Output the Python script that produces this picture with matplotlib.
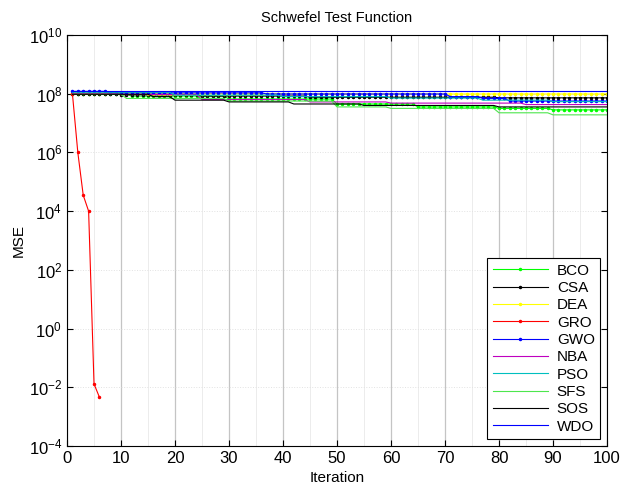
import numpy as np
import matplotlib
matplotlib.use("Agg")
import matplotlib.pyplot as plt
from matplotlib.ticker import FixedLocator, FuncFormatter

plt.rcParams["font.family"] = ["Liberation Sans", "DejaVu Sans"]
plt.rcParams["mathtext.fontset"] = "custom"
plt.rcParams["mathtext.rm"] = "Liberation Sans"
plt.rcParams["mathtext.it"] = "Liberation Sans:italic"

n_iter = 100
iters = np.arange(1, n_iter + 1)

# best-so-far curves: (iteration where the value changes, log10 MSE)
bco_steps = [(1, 7.98), (12, 7.92), (30, 7.82), (50, 7.65), (65, 7.55), (80, 7.50), (90, 7.45)]
csa_steps = [(1, 8.00), (10, 7.97), (25, 7.92), (45, 7.88), (80, 7.86)]
dea_steps = [(1, 8.03), (15, 8.00), (40, 7.99)]
gwo_steps = [(1, 8.08), (8, 8.03), (37, 7.99), (71, 7.90), (77, 7.84), (82, 7.75)]
nba_steps = [(1, 8.00), (10, 7.97), (25, 7.80), (45, 7.72), (60, 7.68), (85, 7.63)]
pso_steps = [(1, 8.05), (20, 7.95), (40, 7.90), (60, 7.85), (77, 7.78), (90, 7.73)]
sfs_steps = [(1, 7.98), (11, 7.84), (30, 7.75), (50, 7.55), (60, 7.50), (80, 7.35), (90, 7.28)]
sos_steps = [(1, 7.98), (16, 7.90), (20, 7.78), (30, 7.72), (42, 7.65), (55, 7.60), (80, 7.55)]
wdo_steps = [(1, 8.10)]

# GRO converges quickly and stops after 6 iterations
gro_iter = [1, 2, 3, 4, 5, 6]
gro_mse = [1e8, 1e6, 3.5e4, 1e4, 1.3e-2, 4.6e-3]


def expand(steps):
    vals = np.zeros(n_iter)
    for it, lv in steps:
        vals[it - 1:] = 10.0 ** lv
    return vals


fig = plt.figure(figsize=(6.24, 4.86), dpi=100)
ax = fig.add_axes([0.1074, 0.0823, 0.8654, 0.8457])

series = [
    ("BCO", expand(bco_steps), iters, (0, 1, 0), "."),
    ("CSA", expand(csa_steps), iters, "k", "."),
    ("DEA", expand(dea_steps), iters, (1, 1, 0), "."),
    ("GRO", gro_mse, gro_iter, "r", "."),
    ("GWO", expand(gwo_steps), iters, "b", "."),
    ("NBA", expand(nba_steps), iters, "m", None),
    ("PSO", expand(pso_steps), iters, "c", None),
    ("SFS", expand(sfs_steps), iters, (0.3, 0.9, 0.3), None),
    ("SOS", expand(sos_steps), iters, "k", None),
    ("WDO", expand(wdo_steps), iters, "b", None),
]

for name, y, x, col, mk in series:
    ax.plot(x, y, color=col, lw=0.8, marker=mk, markersize=3, label=name)

ax.set_yscale("log")
ax.set_xlim(0, 100)
ax.set_ylim(1e-4, 1e10)
ax.xaxis.set_major_locator(FixedLocator(np.arange(0, 101, 10)))
ax.xaxis.set_minor_locator(FixedLocator(np.arange(5, 100, 10)))
ax.yaxis.set_major_locator(FixedLocator([10.0 ** k for k in range(-4, 11, 2)]))
ax.yaxis.set_minor_locator(FixedLocator([]))
ax.yaxis.set_major_formatter(FuncFormatter(lambda v, p: r"$10^{%d}$" % round(np.log10(v))))

ax.grid(True, which="major", axis="x", color="#c4c4c4", lw=0.9, ls="-")
ax.grid(True, which="minor", axis="x", color="#ececec", lw=0.7, ls="-")
ax.grid(True, which="major", axis="y", color="#e2e2e2", lw=0.7, ls=":")
ax.set_axisbelow(True)

ax.tick_params(which="both", direction="in", top=True, right=True, labelsize=12, length=4)
ax.tick_params(which="minor", length=0)
for s in ax.spines.values():
    s.set_linewidth(0.8)

ax.set_title("Schwefel Test Function", fontsize=10.5, pad=9)
ax.set_xlabel("Iteration", fontsize=11, labelpad=4)
ax.set_ylabel("MSE", fontsize=11, labelpad=2)

leg = ax.legend(loc="lower right", fontsize=11, handlelength=3.6, labelspacing=0.22,
                handletextpad=0.6, borderpad=0.35, fancybox=False, framealpha=1,
                edgecolor="k", borderaxespad=0.45)
leg.get_frame().set_linewidth(0.8)

fig.savefig("out.png", dpi=100)
